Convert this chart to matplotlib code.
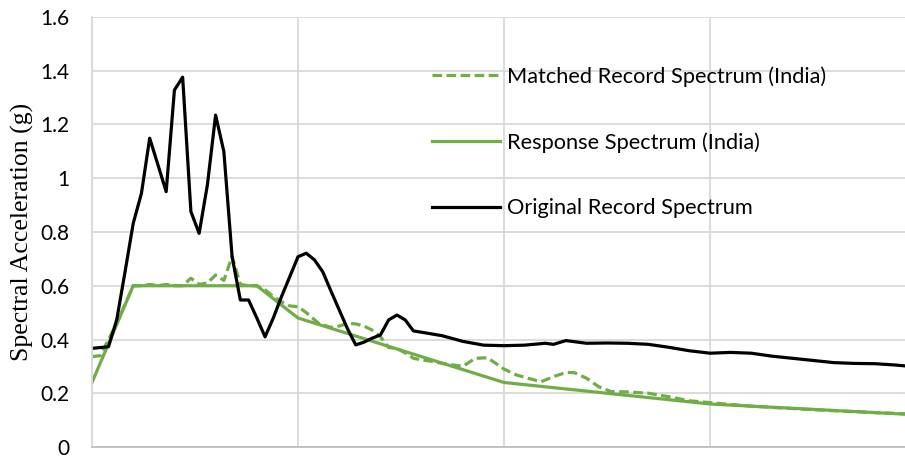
import numpy as np
import matplotlib.pyplot as plt

# period (s) and spectral acceleration (g)
t_orig = [0.00, 0.04, 0.06, 0.08, 0.10, 0.12, 0.14, 0.16, 0.18, 0.20, 0.22, 0.24,
          0.26, 0.28, 0.30, 0.32, 0.34, 0.36, 0.38, 0.40, 0.42, 0.44, 0.46, 0.48,
          0.50, 0.52, 0.54, 0.56, 0.58, 0.60, 0.62, 0.64, 0.66, 0.68, 0.70, 0.72,
          0.74, 0.76, 0.78, 0.80, 0.85, 0.90, 0.95, 1.00, 1.05, 1.10, 1.12, 1.15,
          1.20, 1.25, 1.30, 1.35, 1.40, 1.45, 1.50, 1.55, 1.60, 1.65, 1.70, 1.75,
          1.80, 1.85, 1.90, 1.95, 2.00]
sa_orig = [0.367, 0.373, 0.473, 0.65, 0.832, 0.944, 1.149, 1.05, 0.950, 1.328, 1.376, 0.876,
           0.795, 0.975, 1.235, 1.099, 0.708, 0.547, 0.547, 0.48, 0.410, 0.48, 0.56, 0.634,
           0.708, 0.721, 0.696, 0.652, 0.58, 0.510, 0.44, 0.380, 0.39, 0.405, 0.417, 0.473,
           0.491, 0.473, 0.432, 0.427, 0.414, 0.393, 0.379, 0.377, 0.379, 0.386, 0.382, 0.396,
           0.386, 0.387, 0.386, 0.382, 0.371, 0.358, 0.349, 0.352, 0.349, 0.338, 0.330, 0.322,
           0.314, 0.311, 0.310, 0.305, 0.298]

t_match = [0.00, 0.02, 0.04, 0.06, 0.08, 0.10, 0.12, 0.14, 0.16, 0.18, 0.20, 0.22,
           0.24, 0.26, 0.28, 0.30, 0.32, 0.34, 0.36, 0.38, 0.40, 0.42, 0.44, 0.46,
           0.48, 0.50, 0.52, 0.55, 0.58, 0.60, 0.62, 0.64, 0.66, 0.68, 0.70, 0.72,
           0.74, 0.76, 0.78, 0.80, 0.82, 0.85, 0.90, 0.93, 0.96, 1.00, 1.03, 1.06,
           1.09, 1.12, 1.15, 1.17, 1.20, 1.23, 1.26, 1.30, 1.35, 1.40, 1.45, 1.50,
           1.55, 1.60, 1.70, 1.80, 1.90, 2.00]
sa_match = [0.336, 0.34, 0.40, 0.46, 0.53, 0.60, 0.60, 0.605, 0.60, 0.605, 0.60, 0.60,
            0.628, 0.605, 0.61, 0.64, 0.62, 0.71, 0.605, 0.60, 0.60, 0.585, 0.56, 0.54,
            0.525, 0.522, 0.50, 0.46, 0.445, 0.45, 0.46, 0.458, 0.45, 0.435, 0.41, 0.37,
            0.367, 0.35, 0.33, 0.324, 0.32, 0.311, 0.30, 0.33, 0.332, 0.29, 0.268, 0.255,
            0.243, 0.262, 0.277, 0.277, 0.256, 0.224, 0.206, 0.205, 0.20, 0.187, 0.172, 0.165,
            0.158, 0.152, 0.143, 0.135, 0.128, 0.122]

t_code = [0.0, 0.1, 0.4, 0.5, 1.0, 1.5, 2.0]
sa_code = [0.24, 0.6, 0.6, 0.48, 0.24, 0.16, 0.12]

green = '#70AD47'
grid_c = '#D9D9D9'

fig = plt.figure(figsize=(9.05, 4.57), dpi=100)
ax = fig.add_axes([92/905, 10/457, 813/905, 430/457])

l1, = ax.plot(t_match, sa_match, color=green, lw=2.3, dashes=(3, 1.4),
              label='Matched Record Spectrum (India)')
l2, = ax.plot(t_code, sa_code, color=green, lw=2.3, label='Response Spectrum (India)')
l3, = ax.plot(t_orig, sa_orig, color='black', lw=2.3, label='Original Record Spectrum')

ax.set_xlim(0, 1.973)
ax.set_ylim(0, 1.6)
ax.set_xticks([0, 0.5, 1.0, 1.5])
ax.set_xticklabels([])
ax.set_yticks(np.arange(0, 1.61, 0.2))
ax.set_yticklabels(['0', '0.2', '0.4', '0.6', '0.8', '1', '1.2', '1.4', '1.6'],
                   fontfamily='Lato', fontsize=15)
ax.tick_params(length=0, pad=16)
ax.grid(True, color=grid_c, lw=1.3)
ax.set_axisbelow(True)
for s in ['top', 'right']:
    ax.spines[s].set_visible(False)
ax.spines['left'].set_color(grid_c)
ax.spines['left'].set_linewidth(1.3)
ax.spines['bottom'].set_color('#BFBFBF')
ax.spines['bottom'].set_linewidth(1.3)

ax.set_ylabel('Spectral Acceleration (g)', fontfamily='Liberation Serif', fontsize=18.5)
ax.yaxis.set_label_coords(-0.071, 0.5)

ax.legend(handles=[l1, l2, l3], loc='upper left', bbox_to_anchor=(0.394, 0.931),
          frameon=False, prop={'family': 'Lato', 'size': 15.7}, handlelength=3.12,
          handletextpad=0.32, labelspacing=2.08)

fig.savefig('out.png', dpi=100)
